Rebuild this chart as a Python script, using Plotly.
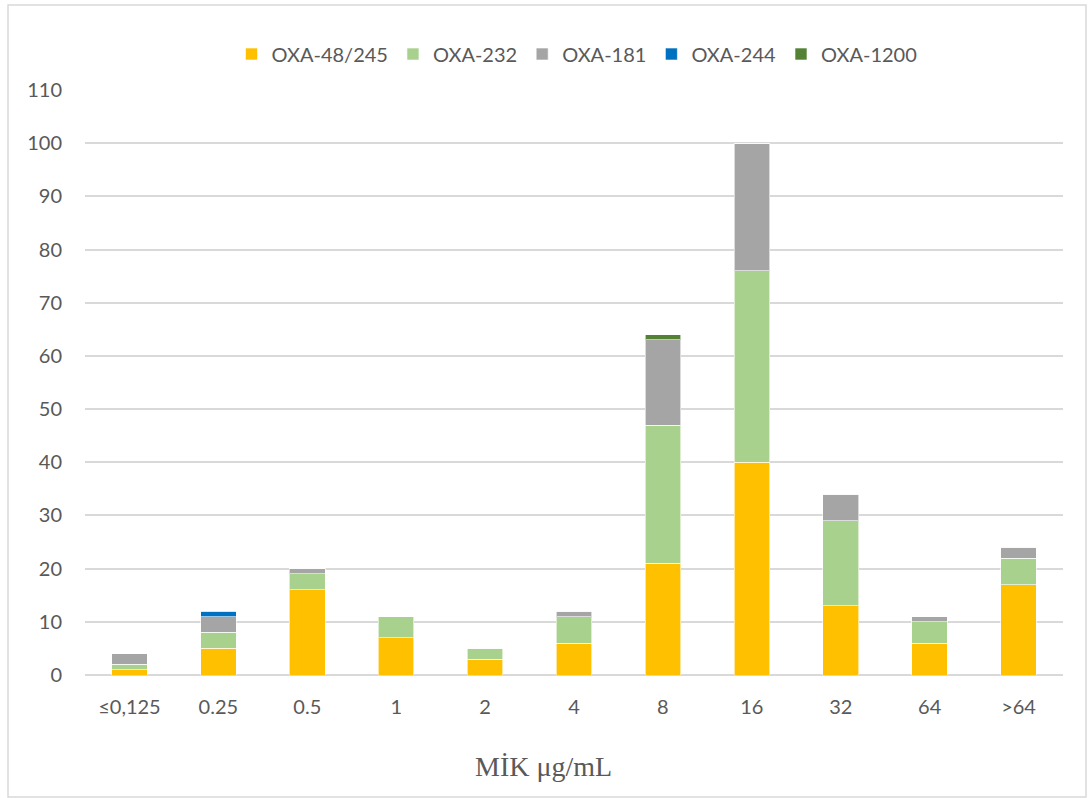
import plotly.graph_objects as go

categories = ["≤0,125", "0.25", "0.5", "1", "2", "4", "8", "16", "32", "64", ">64"]
oxa48_245 = [1, 5, 16, 7, 3, 6, 21, 40, 13, 6, 17]
oxa232 = [1, 3, 3, 4, 2, 5, 26, 36, 16, 4, 5]
oxa181 = [2, 3, 1, 0, 0, 1, 16, 24, 5, 1, 2]
oxa244 = [0, 1, 0, 0, 0, 0, 0, 0, 0, 0, 0]
oxa1200 = [0, 0, 0, 0, 0, 0, 1, 0, 0, 0, 0]

series = [
    ("OXA-48/245", oxa48_245, "#FFC000"),
    ("OXA-232", oxa232, "#A9D18E"),
    ("OXA-181", oxa181, "#A5A5A5"),
    ("OXA-244", oxa244, "#0070C0"),
    ("OXA-1200", oxa1200, "#548235"),
]

fig = go.Figure()
for name, vals, color in series:
    fig.add_trace(go.Bar(
        x=categories, y=vals, name=name,
        marker=dict(color=color, line=dict(color="rgba(255,255,255,0.6)", width=1)),
    ))

L, R, T, B = 85, 27, 90, 123
W, H = 1090, 798
pw, ph = W - L - R, H - T - B

fig.update_layout(
    width=W, height=H,
    barmode="stack", bargap=0.6,
    plot_bgcolor="white", paper_bgcolor="white",
    margin=dict(l=L, r=R, t=T, b=B),
    font=dict(family="Lato, Open Sans, sans-serif", size=20, color="#595959"),
    legend=dict(orientation="h", x=(577 - L) / pw, xanchor="center", y=(675 - 54) / ph, yanchor="middle",
                font=dict(size=20, color="#595959"), traceorder="normal",
                itemwidth=30, entrywidth=0),
    xaxis=dict(showgrid=False, showline=False, ticks="", tickfont=dict(size=20), ticklabelstandoff=18),
    yaxis=dict(range=[0, 110], dtick=10, showgrid=True, gridcolor="#D9D9D9", gridwidth=2,
               zeroline=True, zerolinecolor="#D9D9D9", zerolinewidth=2,
               showline=False, ticks="", tickfont=dict(size=20), ticklabelstandoff=22),
    showlegend=True,
)

fig.add_annotation(
    text="MİK μg/mL", xref="paper", yref="paper",
    x=(543 - L) / pw, y=(675 - 767) / ph, xanchor="center", yanchor="middle",
    showarrow=False, font=dict(family="Liberation Serif, Times New Roman, serif", size=28, color="#595959"),
)

# Light frame around the chart area
fig.add_shape(
    type="rect", xref="paper", yref="paper",
    x0=(8 - L) / pw, x1=(1086 - L) / pw,
    y0=(675 - 797) / ph, y1=(675 - 5) / ph,
    line=dict(color="#D9D9D9", width=1.5), fillcolor="rgba(0,0,0,0)", layer="below",
)

fig.write_html("out.html")
